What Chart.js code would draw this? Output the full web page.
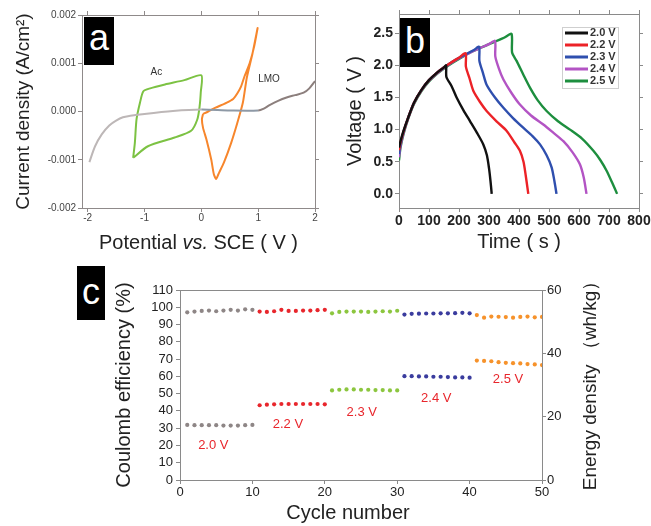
<!DOCTYPE html>
<html><head><meta charset="utf-8">
<script src="https://cdn.jsdelivr.net/npm/chart.js@4.4.1/dist/chart.umd.min.js"></script>
<style>
html,body{margin:0;padding:0;background:#fff;}
#wrap{position:relative;width:651px;height:526px;overflow:hidden;background:#fff;}
#wrap canvas{position:absolute;}
.tag{position:absolute;background:#000;color:#fff;font-family:"Liberation Sans",Arial,sans-serif;text-align:center;}
#err{position:absolute;left:0;top:0;color:red;font:10px monospace;white-space:pre;}
</style></head><body>
<div id="wrap">
<canvas id="ca" width="330" height="260" style="left:0;top:0"></canvas>
<canvas id="cb" width="321" height="260" style="left:330px;top:0"></canvas>
<canvas id="cc" width="651" height="264" style="left:0;top:262px"></canvas>
<div class="tag" style="left:84px;top:17px;width:30px;height:48px;font-size:36px;line-height:42px">a</div>
<div class="tag" style="left:400px;top:18px;width:30px;height:49px;font-size:36px;line-height:46px">b</div>
<div class="tag" style="left:77px;top:266px;width:28px;height:54px;font-size:36px;line-height:52px">c</div>
<div id="err"></div>
</div>
<script>
const log = s => { document.getElementById('err').textContent += s + '\n'; };
const FONT = '"Liberation Sans", Arial, Helvetica, sans-serif';
Chart.defaults.font.family = FONT;

// ---------- Panel a : CV curves ----------
const acV  = [-1.2,-1.17,-1.14,-1.08,-1.02,-0.9,-0.64,-0.3,0.0,-0.01,-0.03,-0.07,-0.18,-0.47,-0.94,-1.2];
const acI  = [-0.00096,-0.00065,-0.00016,0.00018,0.00042,0.00048,0.00056,0.00065,0.00075,0.0004,0.00011,-0.00016,-0.0004,-0.00054,-0.00072,-0.00096];
const lmoV = [0.03,0.12,0.25,0.44,0.56,0.64,0.7,0.76,0.85,0.93,0.99,0.9,0.8,0.73,0.63,0.525,0.4,0.3,0.26,0.22,0.175,0.09,0.03,0.01,0.03];
const lmoI = [-0.00005,0.0,0.00008,0.00018,0.00026,0.00039,0.00052,0.00073,0.001,0.00135,0.00173,0.0012,0.0007,0.00018,-0.00025,-0.00065,-0.00105,-0.0013,-0.0014,-0.0013,-0.001,-0.00058,-0.00034,-0.00016,-0.00005];
const bgV  = [-1.97,-1.87,-1.75,-1.62,-1.5,-1.38,-1.25,-1.0,-0.5,0.0,0.5,1.0,1.1,1.2,1.35,1.5,1.65,1.8,1.9,2.0];
const bgI  = [-0.00105,-0.00072,-0.00047,-0.00029,-0.00019,-0.00012,-0.00009,-0.00005,0.00001,0.00004,0.00002,0.00002,0.00006,0.00013,0.00022,0.00029,0.00034,0.00039,0.00048,0.00063];
const aXTicks = [-2,-1,0,1,2];
const aYTicks = [-0.002,-0.001,0,0.001,0.002];

// ---------- Panel b : charge / discharge ----------
const bLabels = ['2.0 V','2.2 V','2.3 V','2.4 V','2.5 V'];
const tBlack = [0,5,15,30,50,75,100,125,150,157,158,175,192,215,237,260,281,293,300,305,309];
const vBlack = [0.72,0.82,0.98,1.18,1.42,1.62,1.77,1.88,1.97,2.0,1.82,1.68,1.5,1.3,1.13,0.95,0.77,0.6,0.4,0.2,0.0];
const tRed   = [0,5,15,30,50,75,100,125,150,175,200,222,223,235,248,270,292,325,359,385,403,415,422,428,431];
const vRed   = [0.68,0.8,0.97,1.18,1.42,1.62,1.77,1.88,1.97,2.05,2.12,2.19,1.98,1.8,1.6,1.43,1.29,1.13,0.98,0.8,0.67,0.5,0.3,0.1,0.0];
const tBlue  = [0,5,15,30,50,75,100,125,150,175,200,225,250,267,268,280,292,320,348,380,414,445,470,492,509,518,525];
const vBlue  = [0.62,0.77,0.96,1.18,1.42,1.62,1.77,1.88,1.97,2.05,2.12,2.18,2.24,2.29,2.07,1.88,1.7,1.5,1.34,1.18,1.03,0.9,0.77,0.6,0.41,0.2,0.0];
const tMag   = [0,5,15,30,50,75,100,125,150,175,200,225,250,275,300,320,321,333,348,375,403,440,481,515,548,578,603,616,625];
const vMag   = [0.57,0.75,0.95,1.17,1.41,1.61,1.76,1.87,1.96,2.04,2.11,2.17,2.23,2.28,2.33,2.38,2.14,1.95,1.78,1.57,1.39,1.22,1.08,0.95,0.82,0.65,0.46,0.25,0.0];
const tGreen = [0,5,15,30,50,75,100,125,150,175,200,225,250,275,300,325,350,375,377,392,415,437,462,492,530,570,610,648,672,692,710,727];
const vGreen = [0.52,0.72,0.93,1.16,1.4,1.6,1.75,1.86,1.95,2.03,2.1,2.17,2.23,2.28,2.33,2.38,2.43,2.49,2.2,2.07,1.85,1.65,1.46,1.29,1.13,1.0,0.86,0.67,0.52,0.36,0.18,0.0];
const bXTicks = [0,100,200,300,400,500,600,700,800];
const bYTicks = [0,0.5,1,1.5,2,2.5];

// ---------- Panel c : cycling ----------
const cycA = [1,2,3,4,5,6,7,8,9,10];
const cycB = [11,12,13,14,15,16,17,18,19,20];
const cycC = [21,22,23,24,25,26,27,28,29,30];
const cycD = [31,32,33,34,35,36,37,38,39,40];
const cycE = [41,42,43,44,45,46,47,48,49,50];
const ce20 = [97.1,97.5,97.9,98.1,97.7,98.1,98.5,98.1,98.8,98.5];
const ce22 = [97.5,97.3,97.7,98.5,97.9,97.9,98.1,98.1,98.3,98.5];
const ce23 = [96.5,97.3,97.5,97.5,97.5,97.3,97.5,97.7,97.5,98.0];
const ce24 = [95.8,96.2,96.3,96.4,96.4,96.5,96.5,96.6,96.8,96.5];
const ce25 = [95.5,94.0,94.6,94.5,94.3,94.0,94.4,94.6,94.2,94.4];
const ed20 = [17.4,17.3,17.3,17.3,17.3,17.2,17.2,17.2,17.3,17.4];
const ed22 = [23.6,23.8,23.9,24.0,24.0,24.0,24.0,24.0,24.0,23.9];
const ed23 = [28.3,28.5,28.6,28.6,28.5,28.5,28.4,28.4,28.3,28.3];
const ed24 = [32.8,32.8,32.7,32.7,32.6,32.6,32.5,32.4,32.4,32.3];
const ed25 = [37.7,37.6,37.5,37.2,37.0,36.9,36.8,36.6,36.5,36.3];
const cLabels = ['2.0 V','2.2 V','2.3 V','2.4 V','2.5 V'];
const cLabelCycle = [4.6,14.9,25.1,35.4,45.3];
const cLabelPct = [20.3,32.4,39.4,47.5,58.5];
const cXTicks = [0,10,20,30,40,50];
const cYTicks = [0,10,20,30,40,50,60,70,80,90,100,110];
const cY1Ticks = [0,20,40,60];

const zip = (xs, ys) => xs.map((x, i) => ({x: x, y: ys[i]}));

// ---------- overlay plugin (notes, titles, legend) ----------
function seg(ctx,x1,y1,x2,y2){ctx.beginPath();ctx.moveTo(x1,y1);ctx.lineTo(x2,y2);ctx.stroke();}
function drawNotes(chart, items) {
  const ctx = chart.ctx; ctx.save();
  for (const it of items) {
    const xs = chart.scales.x, ys = chart.scales[it.axis || 'y'];
    ctx.font = it.font; ctx.fillStyle = it.color; ctx.textAlign = 'center'; ctx.textBaseline = 'middle';
    ctx.fillText(it.text, xs.getPixelForValue(it.x), ys.getPixelForValue(it.y));
  }
  ctx.restore();
}
function drawTitles(chart, items) {
  const ctx = chart.ctx, a = chart.chartArea;
  for (const it of items) {
    ctx.save();
    const cx = it.cx != null ? it.cx : (a.left + a.right)/2;
    const cy = it.cy != null ? it.cy : (a.top + a.bottom)/2;
    ctx.translate(cx, cy); if (it.rot) ctx.rotate(it.rot);
    const fonts = it.parts.map(p => (p.italic ? 'italic ' : '') + it.size + 'px ' + FONT);
    let w = 0;
    const ws = it.parts.map((p, i) => { ctx.font = fonts[i]; const mw = ctx.measureText(p.text).width; w += mw; return mw; });
    let x = -w/2;
    ctx.fillStyle = it.color; ctx.textBaseline = 'middle'; ctx.textAlign = 'left';
    it.parts.forEach((p, i) => { ctx.font = fonts[i]; ctx.fillText(p.text, x, 0); x += ws[i]; });
    ctx.restore();
  }
}
function drawLegend(chart, o) {
  const ctx = chart.ctx, a = chart.chartArea;
  const right = Math.round(a.right - o.offsetRight), top = Math.round(a.top + o.offsetTop);
  const left = right - o.width;
  ctx.save();
  ctx.fillStyle = '#fff'; ctx.fillRect(left, top, o.width, o.height);
  ctx.strokeStyle = o.borderColor; ctx.lineWidth = 1; ctx.strokeRect(left+0.5, top+0.5, o.width, o.height);
  chart.data.datasets.forEach((d, i) => {
    const y = top + o.first + i*o.step;
    ctx.strokeStyle = d.borderColor; ctx.lineWidth = 3; seg(ctx, left+3, y, left+26, y);
    ctx.fillStyle = o.color; ctx.font = o.font; ctx.textBaseline = 'middle'; ctx.textAlign = 'left';
    ctx.fillText(d.label, left+28, y);
  });
  ctx.restore();
}
function makeOverlay(name, cfg) {
  return {
    id: 'overlay' + name,
    afterDraw(chart) {
      if (cfg.legend) { try { drawLegend(chart, cfg.legend); } catch (e) { log('legend ' + name + ': ' + e.message); } }
      if (cfg.notes) { try { drawNotes(chart, cfg.notes); } catch (e) { log('notes ' + name + ': ' + e.message); } }
      if (cfg.titles) { try { drawTitles(chart, cfg.titles); } catch (e) { log('titles ' + name + ': ' + e.message); } }
    }
  };
}

function fixTicks(arr){ return s => { s.ticks = arr.map(v => ({value: v})); }; }
function fitH(h){ return s => { s.height = h; s.paddingLeft = 0; s.paddingRight = 0; }; }
function fitW(w){ return s => { s.width = w; s.paddingTop = 0; s.paddingBottom = 0; }; }
// axis line + outward tick marks drawn by Chart.js itself
function tickGrid(col){ return { display: true, drawOnChartArea: false, drawTicks: true, tickLength: 4, color: col, lineWidth: 1 }; }
function frameBorder(col){ return { display: true, color: col, width: 1 }; }
function mirrorX(min, max, ticksArr, col, withTicks){
  return { type: 'linear', axis: 'x', position: 'top', min: min, max: max,
    grid: withTicks ? tickGrid(col) : { display: false }, border: frameBorder(col),
    ticks: { display: false }, afterBuildTicks: fixTicks(ticksArr), afterFit: fitH(0) };
}
function mirrorY(min, max, ticksArr, col){
  return { type: 'linear', axis: 'y', position: 'right', min: min, max: max,
    grid: tickGrid(col), border: frameBorder(col),
    ticks: { display: false }, afterBuildTicks: fixTicks(ticksArr), afterFit: fitW(0) };
}

try {
// ---------- Chart a ----------
const colA = '#8f8a8a';
new Chart(document.getElementById('ca'), {
  type: 'line',
  data: { datasets: [
    { label: 'Background', data: zip(bgV, bgI), borderColor: '#a9a3a3', borderWidth: 2, pointRadius: 0, tension: 0.3,
      segment: { borderColor: c => c.p0.parsed.x < -0.01 ? '#bdb7b7' : (c.p0.parsed.x < 0.99 ? '#8e99a6' : '#8c7f7d') } },
    { label: 'Ac', data: zip(acV, acI), borderColor: '#7cc243', borderWidth: 2, pointRadius: 0, tension: 0.25 },
    { label: 'LMO', data: zip(lmoV, lmoI), borderColor: '#f7862c', borderWidth: 2, pointRadius: 0, tension: 0.2 }
  ]},
  options: {
    responsive: false, animation: false,
    layout: { padding: { top: 15, right: 15, left: 0, bottom: 0 } },
    plugins: { legend: { display: false }, tooltip: { enabled: false } },
    scales: {
      x: { type: 'linear', min: -2.1, max: 2, grid: tickGrid(colA), border: frameBorder(colA),
        ticks: { font: { size: 10 }, color: '#444', padding: 0, maxRotation: 0, autoSkip: false, callback: v => String(v) },
        afterBuildTicks: fixTicks(aXTicks), afterFit: fitH(52) },
      y: { type: 'linear', min: -0.002, max: 0.002, grid: tickGrid(colA), border: frameBorder(colA),
        ticks: { font: { size: 10 }, color: '#444', padding: 2, autoSkip: false, callback: v => v.toFixed(3) },
        title: { display: true, text: 'Current density (A/cm²)', font: { size: 19 }, color: '#222', padding: { top: 12, bottom: 0 } },
        afterBuildTicks: fixTicks(aYTicks), afterFit: fitW(82) },
      xTop: mirrorX(-2.1, 2, aXTicks, colA, true),
      yRight: mirrorY(-0.002, 0.002, aYTicks, colA)
    }
  },
  plugins: [ makeOverlay('a', {
    notes: [
      { text: 'Ac', x: -0.79, y: 0.00082, font: '10px ' + FONT, color: '#333' },
      { text: 'LMO', x: 1.19, y: 0.00066, font: '10px ' + FONT, color: '#333' }
    ],
    titles: [ { parts: [{text: 'Potential '}, {text: 'vs.', italic: true}, {text: ' SCE ( V )'}], size: 20, cy: 243, color: '#222' } ]
  }) ]
});

// ---------- Chart b ----------
const colB = '#8a8a8a';
const bColors = ['#111111', '#ec2227', '#2f4fae', '#b354c4', '#1d8e3e'];
const bT = [tBlack, tRed, tBlue, tMag, tGreen];
const bV = [vBlack, vRed, vBlue, vMag, vGreen];
new Chart(document.getElementById('cb'), {
  type: 'line',
  data: { datasets: bLabels.map((lb, i) => ({
    label: lb, data: zip(bT[i], bV[i]), borderColor: bColors[i], borderWidth: 2.4, pointRadius: 0, tension: 0.25
  })) },
  options: {
    responsive: false, animation: false,
    layout: { padding: { top: 14, right: 12, left: 0, bottom: 0 } },
    plugins: { legend: { display: false }, tooltip: { enabled: false } },
    scales: {
      x: { type: 'linear', min: 0, max: 800, grid: tickGrid(colB), border: frameBorder(colB),
        ticks: { font: { size: 14, weight: 'bold' }, color: '#222', padding: 1, maxRotation: 0, autoSkip: false, callback: v => String(v) },
        title: { display: true, text: 'Time ( s )', font: { size: 20 }, color: '#222', padding: { top: 0, bottom: 6 } },
        afterBuildTicks: fixTicks(bXTicks), afterFit: fitH(52) },
      y: { type: 'linear', min: -0.22, max: 2.8, grid: tickGrid(colB), border: frameBorder(colB),
        ticks: { font: { size: 14, weight: 'bold' }, color: '#222', padding: 2, autoSkip: false, callback: v => v.toFixed(1) },
        title: { display: true, text: 'Voltage ( V )', font: { size: 20 }, color: '#222', padding: { top: 13, bottom: 0 } },
        afterBuildTicks: fixTicks(bYTicks), afterFit: fitW(69) },
      xTop: mirrorX(0, 800, bXTicks, colB, true),
      yRight: mirrorY(-0.22, 2.8, bYTicks, colB)
    }
  },
  plugins: [ makeOverlay('b', {
    legend: { offsetRight: 21, offsetTop: 13, width: 56, height: 61, first: 6, step: 12,
              borderColor: '#cfcfcf', color: '#333', font: 'bold 11px ' + FONT }
  }) ]
});

// ---------- Chart c ----------
const colC = '#8a8a8a';
const cColors = ['#8e8686', '#e8262c', '#8cc63f', '#3a3c9e', '#f6922b'];
const cCyc = [cycA, cycB, cycC, cycD, cycE];
const cCE = [ce20, ce22, ce23, ce24, ce25];
const cED = [ed20, ed22, ed23, ed24, ed25];
const cSets = [];
cLabels.forEach((lb, i) => {
  cSets.push({ label: 'Coulomb efficiency ' + lb, data: zip(cCyc[i], cCE[i]), xAxisID: 'x', yAxisID: 'y',
    pointRadius: 2.1, pointBackgroundColor: cColors[i], pointBorderWidth: 0, borderColor: cColors[i], showLine: false });
  cSets.push({ label: 'Energy density ' + lb, data: zip(cCyc[i], cED[i]), xAxisID: 'x', yAxisID: 'y1',
    pointRadius: 2.1, pointBackgroundColor: cColors[i], pointBorderWidth: 0, borderColor: cColors[i], showLine: false });
});
new Chart(document.getElementById('cc'), {
  type: 'scatter',
  data: { datasets: cSets },
  options: {
    responsive: false, animation: false,
    layout: { padding: { top: 28, right: 0, left: 0, bottom: 0 } },
    plugins: { legend: { display: false }, tooltip: { enabled: false } },
    scales: {
      x: { type: 'linear', min: 0, max: 50, grid: tickGrid(colC), border: frameBorder(colC),
        ticks: { font: { size: 13 }, color: '#222', padding: 1, maxRotation: 0, autoSkip: false, callback: v => String(v) },
        afterBuildTicks: fixTicks(cXTicks), afterFit: fitH(46) },
      y: { type: 'linear', position: 'left', min: 0, max: 110, grid: tickGrid(colC), border: frameBorder(colC),
        ticks: { font: { size: 13 }, color: '#222', padding: 3, autoSkip: false, callback: v => String(v) },
        title: { display: true, text: 'Coulomb efficiency (%)', font: { size: 20 }, color: '#222', padding: { top: 112, bottom: 0 } },
        afterBuildTicks: fixTicks(cYTicks), afterFit: fitW(180) },
      y1: { type: 'linear', position: 'right', min: 0, max: 60, grid: tickGrid(colC), border: frameBorder(colC),
        ticks: { font: { size: 13 }, color: '#222', padding: 1, autoSkip: false, callback: v => String(v) },
        afterBuildTicks: fixTicks(cY1Ticks), afterFit: fitW(109) },
      xTop: mirrorX(0, 50, cXTicks, colC, false)
    }
  },
  plugins: [ makeOverlay('c', {
    notes: cLabels.map((lb, i) => ({ text: lb, x: cLabelCycle[i], y: cLabelPct[i], font: '13px ' + FONT, color: '#e8262c' })),
    titles: [
      { parts: [{text: 'Cycle number'}], size: 20, cx: 348, cy: 251, color: '#222' },
      { parts: [{text: 'Energy density （wh/kg）'}], size: 19, cx: 591, cy: 119, rot: -Math.PI/2, color: '#222' }
    ]
  }) ]
});
} catch (e) { log('OUTER ' + (e && e.message)); }
</script>
</body></html>
